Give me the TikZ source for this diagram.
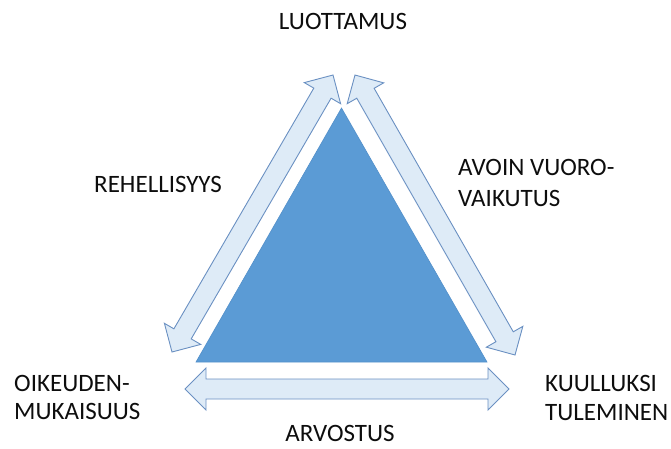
\documentclass[tikz,border=0pt]{standalone}
\usepackage{fontspec}
\setmainfont{Carlito}
\usetikzlibrary{calc}
\definecolor{triblue}{HTML}{5B9BD5}
\definecolor{triedge}{HTML}{5390CA}
\definecolor{arrowfill}{HTML}{DEEBF7}
\definecolor{arrowedge}{HTML}{6A90C2}
\definecolor{ink}{HTML}{0D0D0D}
% two-headed block arrow along a line from #1 to #2
\newcommand\twowayarrow[2]{%
  \path let \p1=($(#2)-(#1)$), \n1={veclen(\x1,\y1)}, \n2={atan2(\y1,\x1)} in
    (#1) pic[rotate=\n2] {dblarrow=\n1};}
\begin{document}
\begin{tikzpicture}[x=1pt,y=-1pt,
  lbl/.style={inner sep=0pt, text=ink, font=\fontsize{25}{28.5}\selectfont, align=left},
  tri/.style={fill=triblue, draw=triedge, line width=0.6pt, line join=miter},
  arrowbody/.style={fill=arrowfill, draw=arrowedge, line width=0.9pt, line join=miter},
  pics/dblarrow/.style={code={
    \draw[arrowbody] (0,0) -- (21,-21) -- (21,-10) -- ({#1-21},-10) -- ({#1-21},-21)
      -- ({#1},0) -- ({#1-21},21) -- ({#1-21},10) -- (21,10) -- (21,21) -- cycle;}}]
\useasboundingbox (0,0) rectangle (671,448);

% central triangle
\coordinate (apex) at (341.5,108);
\coordinate (bl) at (196,362);
\coordinate (br) at (487,362);
\draw[tri] (bl) -- (apex) -- (br) -- cycle;

% ends of the block arrows
\coordinate (l1) at (172,352);
\coordinate (l2) at (333,75);
\coordinate (r1) at (515,355);
\coordinate (r2) at (355,75);
\coordinate (b1) at (185,389);
\coordinate (b2) at (509,389);
\twowayarrow{l1}{l2}
\twowayarrow{r1}{r2}
\twowayarrow{b1}{b2}

% labels (for two-line labels the base anchor sits on the last line)
\node[lbl, anchor=base] (trust) at (343,29) {LUOTTAMUS};
\node[lbl, anchor=base west] (honesty) at (94,192) {REHELLISYYS};
\node[lbl, anchor=base west, font=\fontsize{25}{31}\selectfont] (interaction) at (458,206.5) {AVOIN VUORO-\\VAIKUTUS};
\node[lbl, anchor=base west] (justice) at (14,419.5) {OIKEUDEN-\\MUKAISUUS};
\node[lbl, anchor=base west] (heard) at (545,420) {KUULLUKSI\\TULEMINEN};
\node[lbl, anchor=base] (respect) at (340,441.5) {ARVOSTUS};
\end{tikzpicture}
\end{document}
